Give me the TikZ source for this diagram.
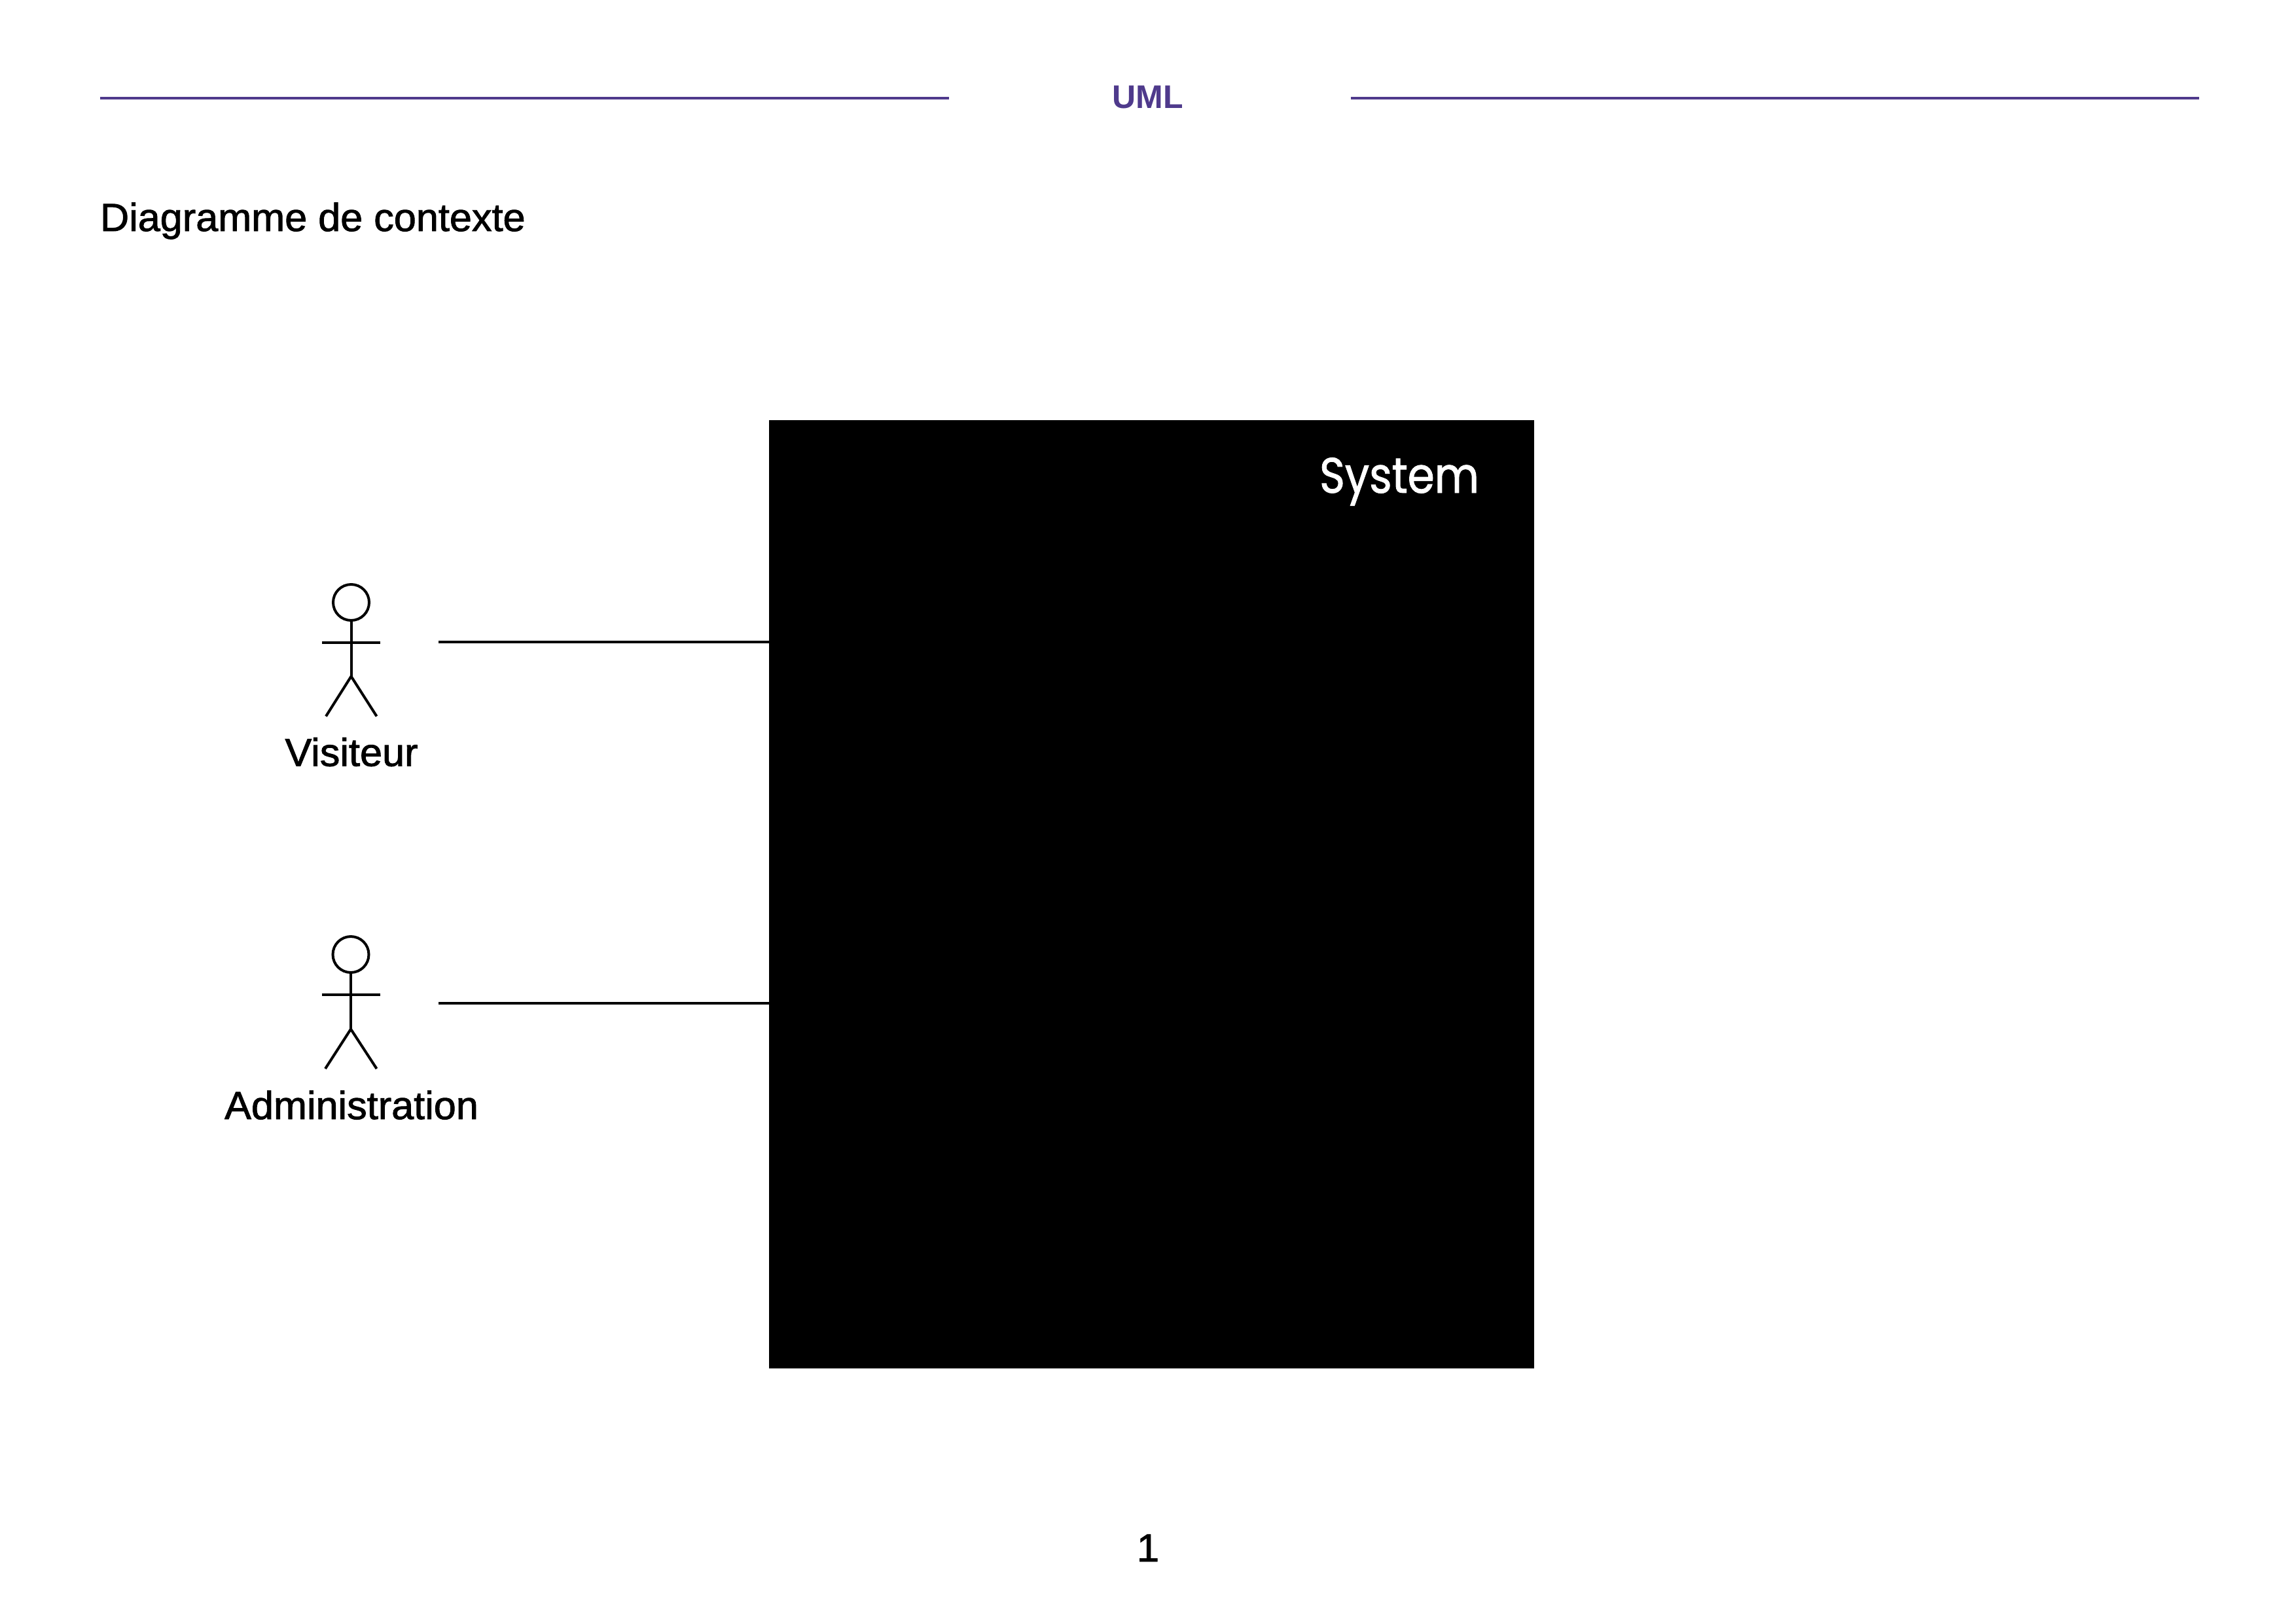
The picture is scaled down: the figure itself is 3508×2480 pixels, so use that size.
\documentclass[tikz,border=0pt]{standalone}
\usepackage{fontspec}
\setmainfont{Liberation Sans}
\newfontfamily\labelfont[FakeStretch=1.02,FakeBold=1.5]{Liberation Sans}
\newfontfamily\sysfont[FakeStretch=0.87,FakeBold=1.2]{Poppins}
\definecolor{umlpurple}{HTML}{4F3A8C}
\tikzset{
  txt/.style={inner sep=0pt,outer sep=0pt,font=\labelfont\fontsize{60}{62}\selectfont},
  headrule/.style={draw=umlpurple,line width=4.5pt},
  stick/.style={draw=black,line width=4pt},
  conn/.style={draw=black,line width=4pt},
  head/.style={circle,draw=black,line width=4pt,minimum size=55pt,inner sep=0pt,outer sep=0pt}
}
\begin{document}
\begin{tikzpicture}[x=1pt,y=-1pt]
\useasboundingbox (0,0) rectangle (3508,2480);
% header
\coordinate (r1a) at (152.5,150); \coordinate (r1b) at (1450,150);
\coordinate (r2a) at (2063.5,150); \coordinate (r2b) at (3360,150);
\draw[headrule] (r1a) -- (r1b);
\draw[headrule] (r2a) -- (r2b);
\node[inner sep=0pt,anchor=base,text=umlpurple,font=\fontsize{50}{52}\selectfont\bfseries] (uml) at (1754,166) {UML};
\node[txt,anchor=base west] (title) at (153,353) {Diagramme de contexte};
% system
\node[fill=black,draw=none,inner sep=0pt,outer sep=0pt,minimum width=1169.5pt,minimum height=1449pt,anchor=north west] (system) at (1174.5,641.5) {};
\node[inner sep=0pt,anchor=base east,text=white,font=\sysfont\fontsize{76}{78}\selectfont] (systext) at (2260,753) {System};
% actor 1
\node[head] (h1) at (536.5,920.5) {};
\coordinate (hip1) at (536.5,1033.5);
\coordinate (al1) at (492,981.5); \coordinate (ar1) at (581,981.5);
\coordinate (ll1) at (498,1094.5); \coordinate (lr1) at (575.5,1094.5);
\draw[stick] (h1.south) -- (hip1);
\draw[stick] (al1) -- (ar1);
\draw[stick] (ll1) -- (hip1) -- (lr1);
\node[txt,anchor=base] (visiteur) at (537,1170.5) {Visiteur};
% actor 2
\node[head] (h2) at (536,1458.5) {};
\coordinate (hip2) at (536,1572.5);
\coordinate (al2) at (491.5,1520); \coordinate (ar2) at (581,1520);
\coordinate (ll2) at (497,1633); \coordinate (lr2) at (575.5,1633);
\draw[stick] (h2.south) -- (hip2);
\draw[stick] (al2) -- (ar2);
\draw[stick] (ll2) -- (hip2) -- (lr2);
\node[txt,anchor=base] (admin) at (537,1710) {Administration};
% connectors
\coordinate (c1) at (670,981);
\coordinate (c2) at (670,1533);
\draw[conn] (c1) -- (c1 -| system.west);
\draw[conn] (c2) -- (c2 -| system.west);
% page number
\node[txt,anchor=base] (page) at (1754,2386) {1};
\end{tikzpicture}
\end{document}
